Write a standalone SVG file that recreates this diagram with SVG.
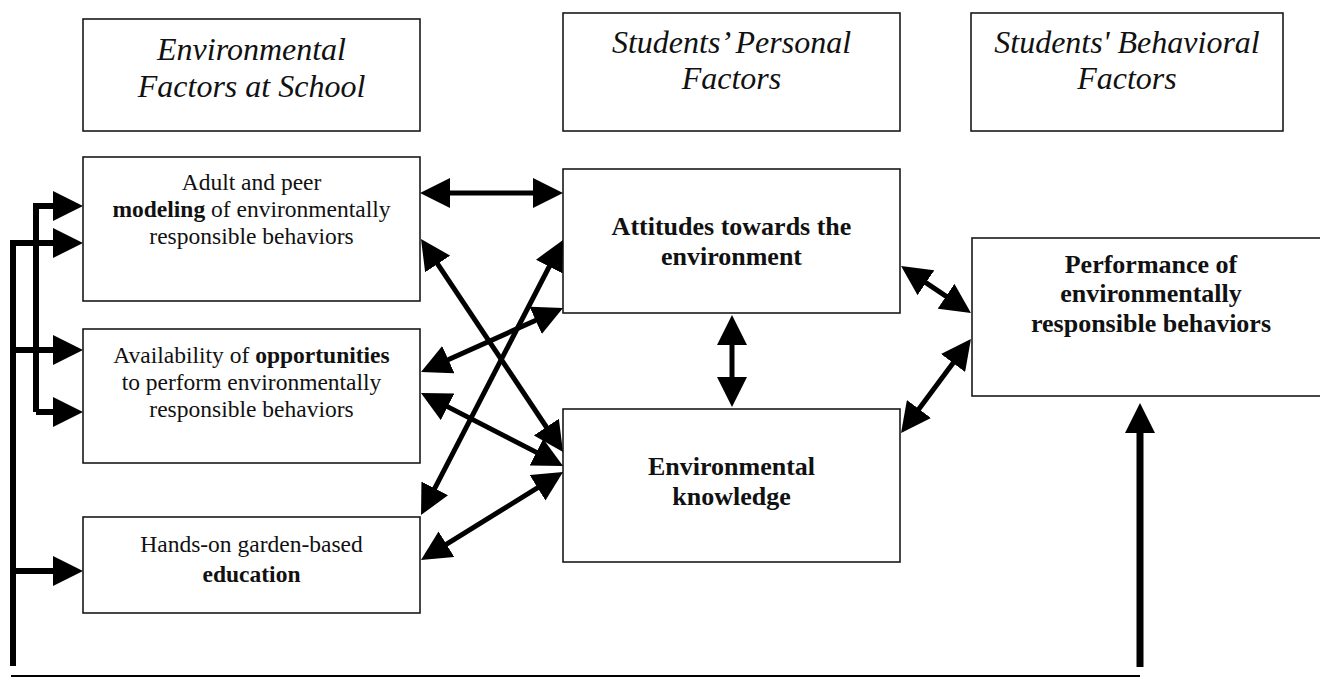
<svg xmlns="http://www.w3.org/2000/svg" width="1320" height="677" viewBox="0 0 1320 677" font-family="'Liberation Serif', Tinos, 'Times New Roman', Times, 'DejaVu Serif', serif">
<style>
.box{fill:#fff;stroke:#1a1a1a;stroke-width:1.6}
.hd{font-style:italic;font-size:32px;fill:#111;text-anchor:middle}
.t{font-size:23.5px;fill:#111;text-anchor:middle}
.tb{font-size:26px;font-weight:bold;fill:#111;text-anchor:middle}
.c{fill:none;stroke:#000;stroke-width:5}
.f{fill:none;stroke:#000;stroke-width:6}
</style>
<defs>
<marker id="ah" markerUnits="userSpaceOnUse" viewBox="0 0 30 30" markerWidth="30" markerHeight="30" refX="15" refY="15" orient="auto-start-reverse">
<path d="M0,0 L30,15 L0,30 z" fill="#000"/>
</marker>
</defs>
<g id="hdr-env">
<rect class="box" x="83" y="19" width="337" height="112"/>
<text class="hd" x="251.5" y="60">Environmental</text>
<text class="hd" x="251.5" y="97">Factors at School</text>
</g>
<g id="hdr-personal">
<rect class="box" x="563" y="13" width="337" height="118"/>
<text class="hd" x="731.5" y="53">Students’ Personal</text>
<text class="hd" x="731.5" y="89">Factors</text>
</g>
<g id="hdr-behavioral">
<rect class="box" x="971" y="13" width="312" height="118"/>
<text class="hd" x="1127" y="53">Students' Behavioral</text>
<text class="hd" x="1127" y="89">Factors</text>
</g>
<g id="modeling">
<rect class="box" x="83" y="157" width="337" height="144"/>
<text class="t" x="251.5" y="190">Adult and peer</text>
<text class="t" x="251.5" y="217"><tspan font-weight="bold">modeling</tspan> of environmentally</text>
<text class="t" x="251.5" y="244">responsible behaviors</text>
</g>
<g id="opportunities">
<rect class="box" x="83" y="329" width="337" height="134"/>
<text class="t" x="251.5" y="363">Availability of <tspan font-weight="bold">opportunities</tspan></text>
<text class="t" x="251.5" y="390">to perform environmentally</text>
<text class="t" x="251.5" y="417">responsible behaviors</text>
</g>
<g id="education">
<rect class="box" x="83" y="517" width="337" height="96"/>
<text class="t" x="251.5" y="552" font-size="26">Hands-on garden-based</text>
<text class="t" x="251.5" y="582" font-size="26" font-weight="bold">education</text>
</g>
<g id="attitudes">
<rect class="box" x="563" y="169" width="337" height="144"/>
<text class="tb" x="731.5" y="235">Attitudes towards the</text>
<text class="tb" x="731.5" y="265">environment</text>
</g>
<g id="knowledge">
<rect class="box" x="563" y="409" width="337" height="153"/>
<text class="tb" x="731.5" y="475">Environmental</text>
<text class="tb" x="731.5" y="505">knowledge</text>
</g>
<g id="performance">
<rect class="box" x="972" y="238" width="350" height="158"/>
<text class="tb" x="1151" y="273">Performance of</text>
<text class="tb" x="1151" y="302">environmentally</text>
<text class="tb" x="1151" y="332">responsible behaviors</text>
</g>
<g id="connectors">
<line class="c" x1="435" y1="193" x2="548" y2="193" marker-start="url(#ah)" marker-end="url(#ah)"/>
<line class="c" x1="429.3" y1="251.5" x2="554.7" y2="439.5" marker-start="url(#ah)" marker-end="url(#ah)"/>
<line class="c" x1="434.7" y1="365.8" x2="549.3" y2="314.2" marker-start="url(#ah)" marker-end="url(#ah)"/>
<line class="c" x1="434.3" y1="399.9" x2="549.7" y2="459.1" marker-start="url(#ah)" marker-end="url(#ah)"/>
<line class="c" x1="427.9" y1="501.7" x2="556.1" y2="253.3" marker-start="url(#ah)" marker-end="url(#ah)"/>
<line class="c" x1="433.7" y1="552.1" x2="550.3" y2="479.9" marker-start="url(#ah)" marker-end="url(#ah)"/>
<line class="c" x1="732" y1="330" x2="732" y2="392" marker-start="url(#ah)" marker-end="url(#ah)"/>
<line class="c" x1="913.5" y1="274.4" x2="958.5" y2="304.6" marker-start="url(#ah)" marker-end="url(#ah)"/>
<line class="c" x1="910" y1="421" x2="962" y2="351" marker-start="url(#ah)" marker-end="url(#ah)"/>
<path class="f" d="M13,666 V243 H68" marker-end="url(#ah)"/>
<path class="f" d="M13,350 H68" marker-end="url(#ah)"/>
<path class="f" d="M13,571 H68" marker-end="url(#ah)"/>
<path class="f" d="M36,412 V206 H68" marker-end="url(#ah)"/>
<path class="f" d="M36,412 H68" marker-end="url(#ah)"/>
<path fill="none" stroke="#000" stroke-width="2" d="M11,676 H1140"/>
<path fill="none" stroke="#000" stroke-width="7" d="M1140,667 V418" marker-end="url(#ah)"/>
</g>
</svg>
